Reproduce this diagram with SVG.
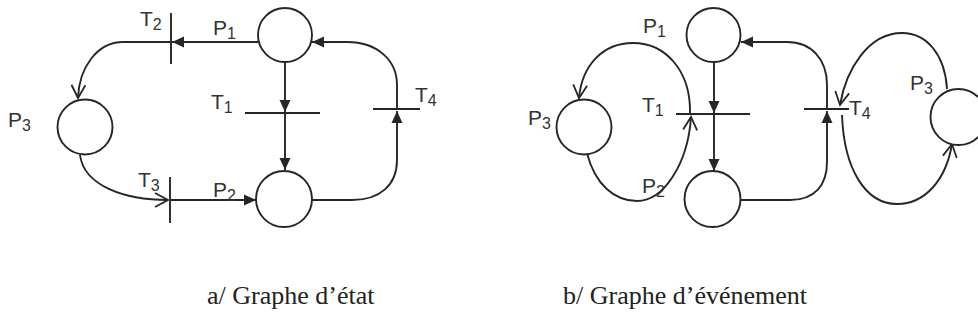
<svg xmlns="http://www.w3.org/2000/svg" width="978" height="329" viewBox="0 0 978 329">
<style>
.ln{fill:none;stroke:#262626;stroke-width:1.9}
.pl{fill:#fff;stroke:#262626;stroke-width:1.9}
.tr{stroke:#262626;stroke-width:1.9}
.lb{font-family:"Liberation Sans","DejaVu Sans",sans-serif;font-size:21px;fill:#333}
.sb{font-size:16px}
.cap{font-family:"Liberation Serif","DejaVu Serif",serif;font-size:26px;fill:#222}
</style>
<defs>
<marker id="fa" viewBox="-13 -7 14 14" refX="0" refY="0" markerWidth="14" markerHeight="14" markerUnits="userSpaceOnUse" orient="auto">
<path d="M-12,-5.5 L0,0 L-12,5.5 Z" fill="#262626"/>
</marker>
<marker id="oa" viewBox="-14 -8 16 16" refX="0" refY="0" markerWidth="16" markerHeight="16" markerUnits="userSpaceOnUse" orient="auto">
<path d="M-13,-7 L0,0 L-13,7" fill="none" stroke="#262626" stroke-width="1.8"/>
</marker>
</defs>
<rect width="978" height="329" fill="#fff"/>

<g id="connectors">
<!-- graph a -->
<path class="ln" d="M258,42 L172,42" marker-end="url(#fa)"/>
<path class="ln" d="M171,42 L123,42 C97,42 79,68 78,98" marker-end="url(#oa)"/>
<path class="ln" d="M80,155 C84,186 125,200 168,200" marker-end="url(#oa)"/>
<path class="ln" d="M170,200 L256,200" marker-end="url(#fa)"/>
<path class="ln" d="M285,62 L285,112" marker-end="url(#fa)"/>
<path class="ln" d="M285,113 L285,170" marker-end="url(#fa)"/>
<path class="ln" d="M312,200 L352,200 C380,200 397,185 397,160 L397,111" marker-end="url(#fa)"/>
<path class="ln" d="M397,109 L397,85 C397,60 377,42 347,42 L312,42" marker-end="url(#fa)"/>
<!-- graph b -->
<path class="ln" d="M714,62 L714,113" marker-end="url(#fa)"/>
<path class="ln" d="M714,114 L714,171" marker-end="url(#fa)"/>
<path class="ln" d="M740,200 L790,200 C815,200 827,185 827,162 L827,111" marker-end="url(#fa)"/>
<path class="ln" d="M827,109 L827,85 C827,60 812,42 787,42 L741,42" marker-end="url(#fa)"/>
<path class="ln" d="M690,114 C691,70 665,43 633,43 C603,43 582,65 579,98" marker-end="url(#oa)"/>
<path class="ln" d="M587,153 C595,185 615,201 637,201 C664,201 688,163 691,117" marker-end="url(#oa)"/>
<path class="ln" d="M947,89 C945,55 927,33 902,33 C868,33 846,70 840,105" marker-end="url(#oa)"/>
<path class="ln" d="M842,115 C844,170 866,204 897,204 C925,204 946,180 952,144" marker-end="url(#oa)"/>
</g>

<!-- graph a nodes -->
<g id="a-P1"><circle class="pl" cx="285" cy="35" r="27"/><text class="lb" x="213" y="35">P<tspan class="sb" dy="4">1</tspan></text></g>
<g id="a-P2"><circle class="pl" cx="284" cy="199" r="28"/><text class="lb" x="213" y="197">P<tspan class="sb" dy="4">2</tspan></text></g>
<g id="a-P3"><circle class="pl" cx="85" cy="127" r="27.5"/><text class="lb" x="8" y="127">P<tspan class="sb" dy="4">3</tspan></text></g>
<g id="a-T1"><line class="tr" x1="245" y1="113" x2="320" y2="113"/><text class="lb" x="211" y="109">T<tspan class="sb" dy="4">1</tspan></text></g>
<g id="a-T2"><line class="tr" x1="171" y1="13" x2="171" y2="64"/><text class="lb" x="140" y="26">T<tspan class="sb" dy="4">2</tspan></text></g>
<g id="a-T3"><line class="tr" x1="170" y1="177" x2="170" y2="223"/><text class="lb" x="138" y="187">T<tspan class="sb" dy="4">3</tspan></text></g>
<g id="a-T4"><line class="tr" x1="373" y1="109" x2="420" y2="109"/><text class="lb" x="415" y="102">T<tspan class="sb" dy="4">4</tspan></text></g>

<!-- graph b nodes -->
<g id="b-P1"><circle class="pl" cx="713.5" cy="35" r="27"/><text class="lb" x="643" y="33">P<tspan class="sb" dy="4">1</tspan></text></g>
<g id="b-P2"><circle class="pl" cx="712.5" cy="199" r="28"/><text class="lb" x="642" y="193">P<tspan class="sb" dy="4">2</tspan></text></g>
<g id="b-P3a"><circle class="pl" cx="584" cy="127" r="27.5"/><text class="lb" x="528" y="125">P<tspan class="sb" dy="4">3</tspan></text></g>
<g id="b-P3b"><circle class="pl" cx="958.5" cy="117" r="28"/><text class="lb" x="910" y="90">P<tspan class="sb" dy="4">3</tspan></text></g>
<g id="b-T1"><line class="tr" x1="676" y1="114" x2="750" y2="114"/><text class="lb" x="642" y="112">T<tspan class="sb" dy="4">1</tspan></text></g>
<g id="b-T4"><line class="tr" x1="804" y1="109" x2="849" y2="109"/><text class="lb" x="849" y="115">T<tspan class="sb" dy="4">4</tspan></text></g>

<g id="captions">
<text class="cap" x="207" y="304">a/ Graphe d’état</text>
<text class="cap" x="563" y="304">b/ Graphe d’événement</text>
</g>
</svg>
